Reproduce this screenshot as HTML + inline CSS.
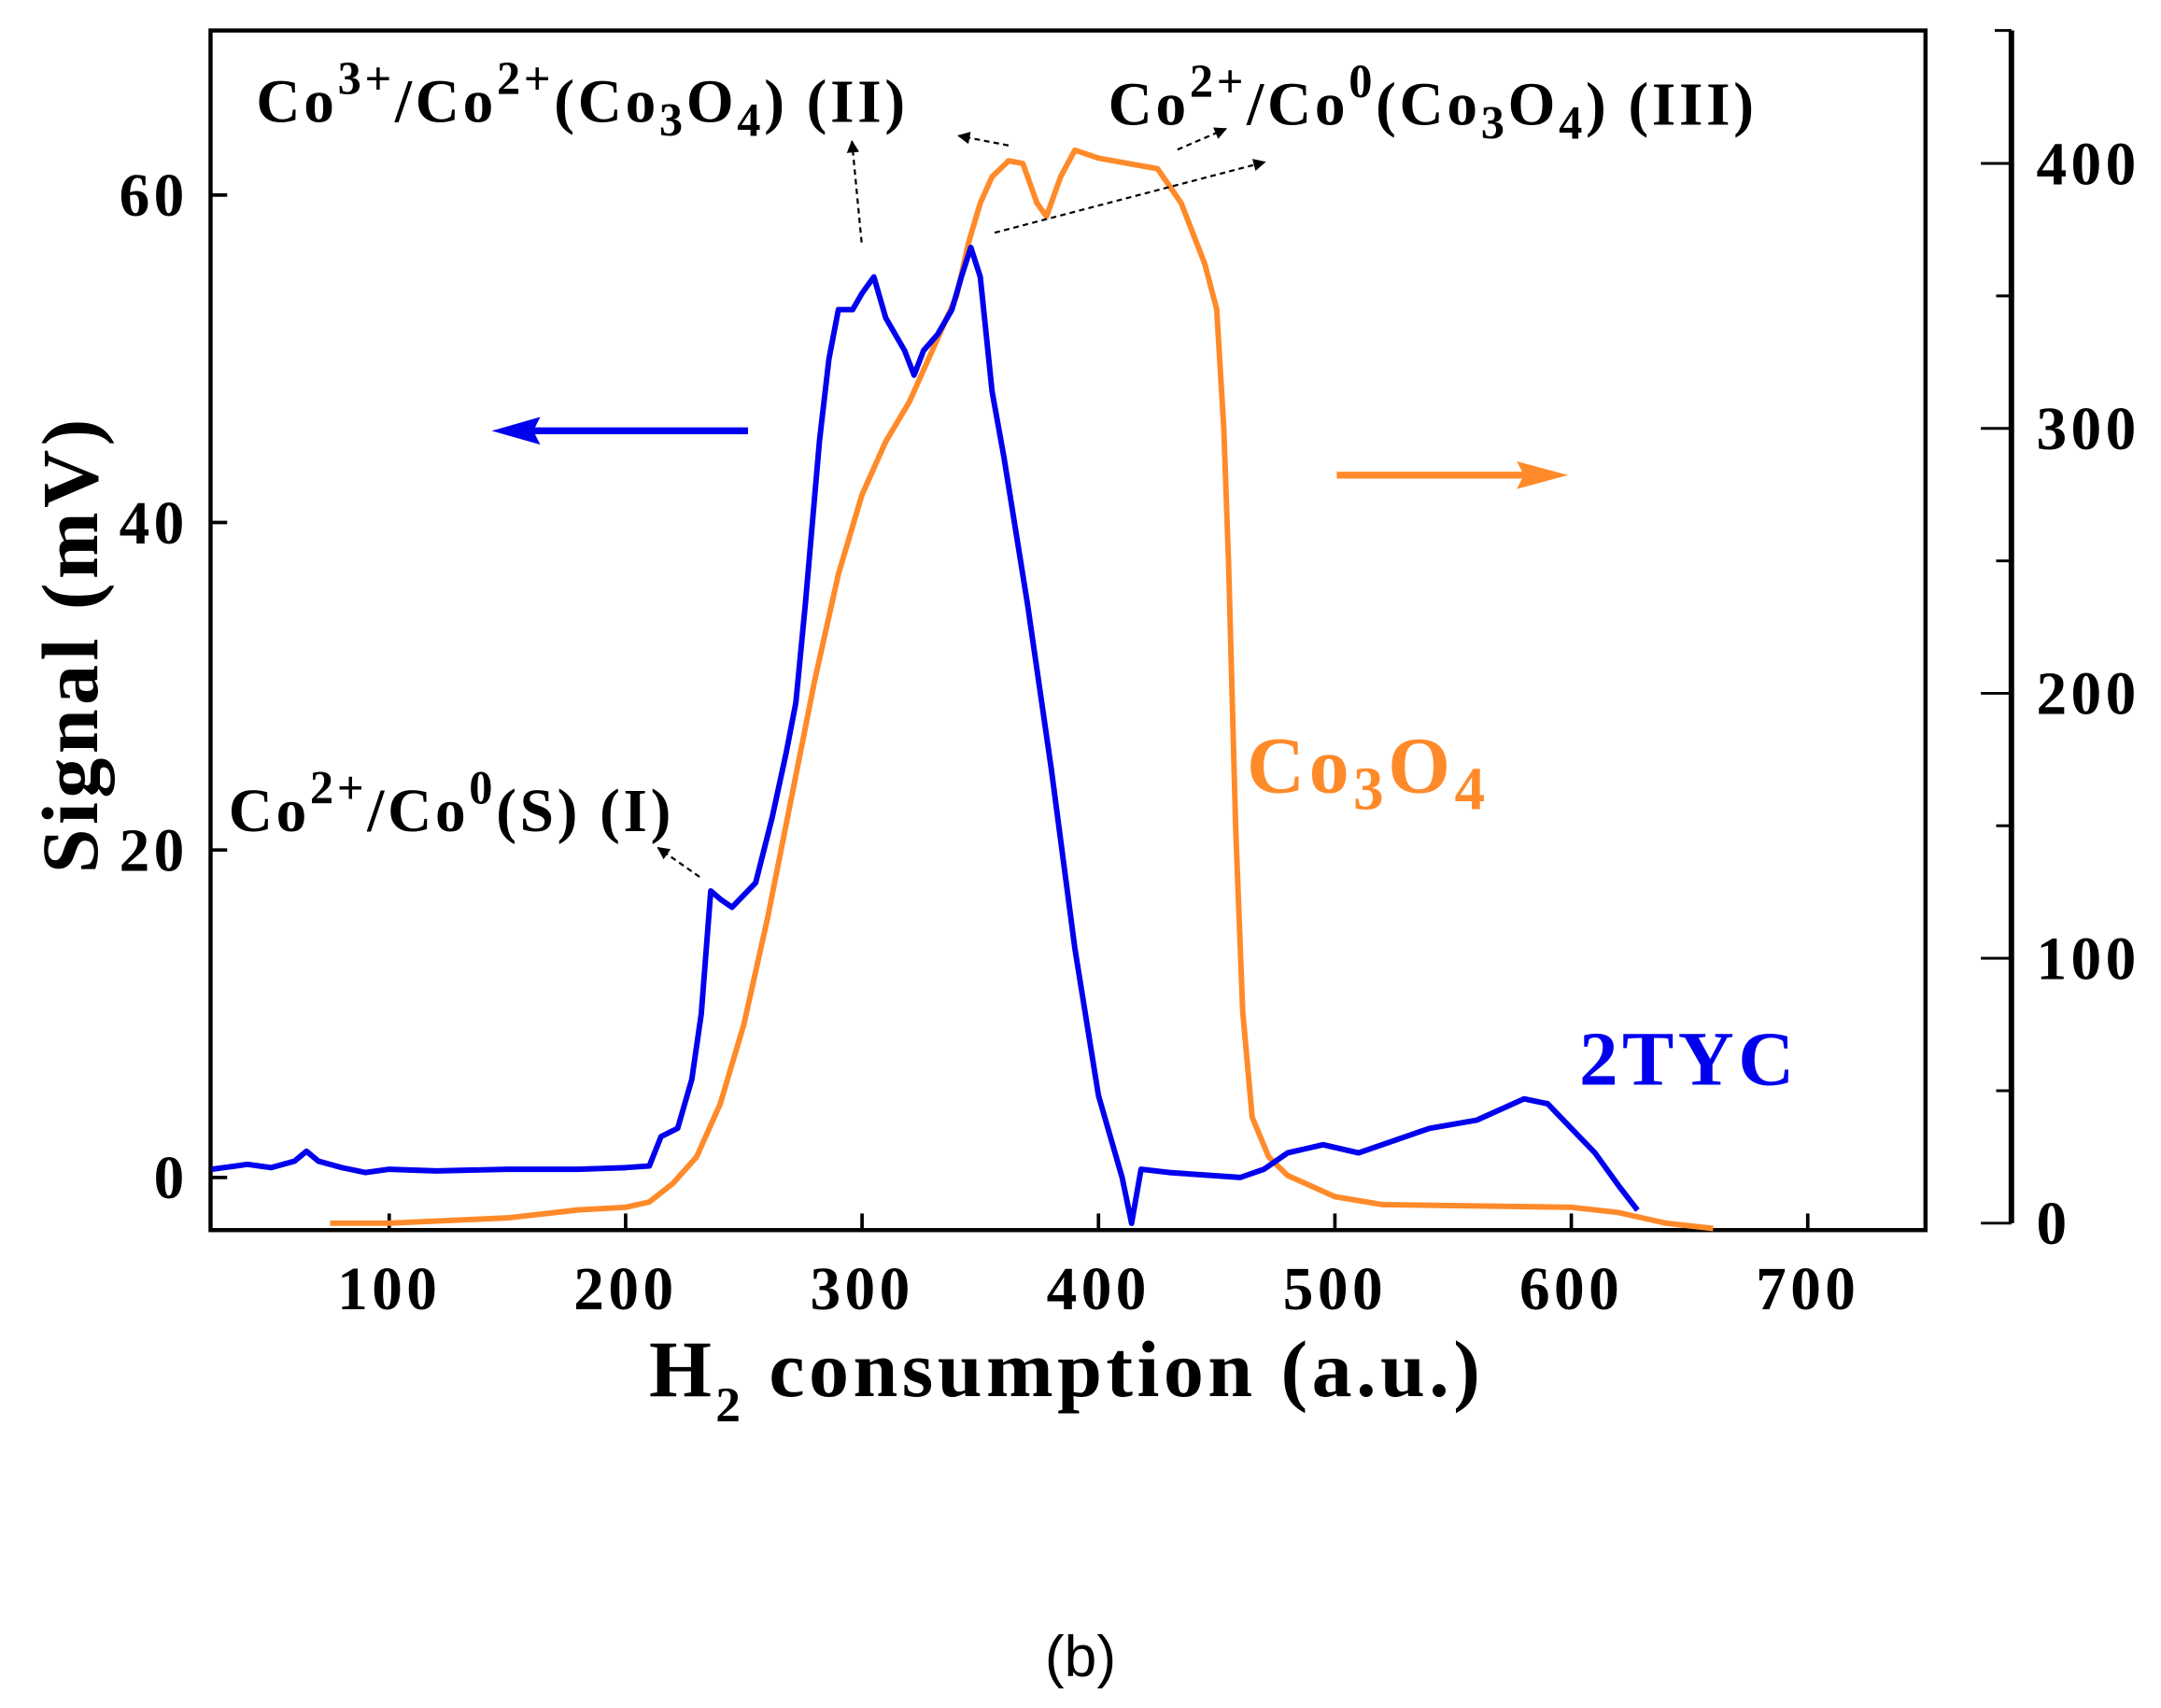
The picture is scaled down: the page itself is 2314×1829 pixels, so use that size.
<!DOCTYPE html>
<html><head><meta charset="utf-8"><style>
html,body{margin:0;padding:0;background:#fff;}
svg{display:block;}
text{font-family:"Liberation Serif",serif;font-weight:bold;}
</style></head><body>
<svg id="chart" width="2314" height="1829" viewBox="0 0 1560 1233" preserveAspectRatio="none" xmlns="http://www.w3.org/2000/svg">
<defs>
<marker id="ah" viewBox="0 0 10 10" refX="9" refY="5" markerWidth="6" markerHeight="6" orient="auto"><path d="M0,0L10,5L0,10z" fill="#000"/></marker>
</defs>
<g id="axes"></g>
<g id="series"></g>
<g font-size="44" letter-spacing="2.5">
<text x="185" y="88">Co<tspan dy="-20" font-size="34">3+</tspan><tspan dy="20">/Co</tspan><tspan dy="-20" font-size="34">2+</tspan><tspan dy="20">(Co</tspan><tspan dy="10" font-size="34">3</tspan><tspan dy="-10">O</tspan><tspan dy="10" font-size="34">4</tspan><tspan dy="-10">) (II)</tspan></text>
<text x="800" y="90">Co<tspan dy="-20" font-size="34">2+</tspan><tspan dy="20">/Co</tspan><tspan dy="-20" font-size="34">0</tspan><tspan dy="20">(Co</tspan><tspan dy="10" font-size="34">3</tspan><tspan dy="-10">O</tspan><tspan dy="10" font-size="34">4</tspan><tspan dy="-10">) (III)</tspan></text>
<text x="165" y="600">Co<tspan dy="-20" font-size="34">2+</tspan><tspan dy="20">/Co</tspan><tspan dy="-20" font-size="34">0</tspan><tspan dy="20">(S) (I)</tspan></text>
<g stroke="#000" stroke-width="1.5" stroke-dasharray="4,3" fill="none" marker-end="url(#ah)">
<line x1="622" y1="175" x2="615" y2="102"/>
<line x1="728" y1="105" x2="692" y2="98"/>
<line x1="850" y1="108" x2="885" y2="93"/>
<line x1="718" y1="168" x2="913" y2="117"/>
<line x1="505" y1="633" x2="475" y2="612"/>
</g>
</g>
<g>
<line x1="540" y1="311" x2="380" y2="311" stroke="#0000ee" stroke-width="5"/>
<path d="M355,311L390,301L385,311L390,321z" fill="#0000ee"/>
<line x1="965" y1="343" x2="1105" y2="343" stroke="#ff8a2a" stroke-width="5"/>
<path d="M1132,343L1095,333L1100,343L1095,353z" fill="#ff8a2a"/>
</g>
<text x="900" y="572" font-size="58" letter-spacing="3" fill="#ff8a2a">Co<tspan dy="12" font-size="44">3</tspan><tspan dy="-12">O</tspan><tspan dy="12" font-size="44">4</tspan></text>
<text x="1140" y="783" font-size="56" letter-spacing="3" fill="#0000ee">2TYC</text>
<text x="770" y="1008" font-size="58" letter-spacing="3" text-anchor="middle">H<tspan dy="18" font-size="36">2</tspan><tspan dy="-18"> consumption (a.u.)</tspan></text>
<text transform="translate(70,465) rotate(-90)" font-size="58" letter-spacing="3" text-anchor="middle">Signal (mV)</text>
<text x="780" y="1210" font-size="42" text-anchor="middle" style="font-family:'Liberation Sans',sans-serif;font-weight:normal">(b)</text>
</svg>
<script>
const blueX=[25,40,50,60,65,70,80,90,100,120,150,180,200,210,215,222,228,232,236,240,245,255,262,268,272,276,282,286,290,296,300,305,310,318,322,326,332,338,342,346,350,355,360,370,380,390,400,406,410,414,418,430,460,470,480,495,510,540,560,580,590,600,610,620,628];
const blueY=[0.5,0.8,0.6,1.0,1.6,1.0,0.6,0.3,0.5,0.4,0.5,0.5,0.6,0.7,2.5,3,6,10,17.5,17,16.5,18,22,26,29,35,45,50,53,53,54,55,52.5,50.5,49,50.5,51.5,53,55,56.8,55,48,44,35,25,14,5,2,0,-2.8,0.5,0.3,0,0.5,1.5,2,1.5,3,3.5,4.8,4.5,3,1.5,-0.5,-2];
const orangeX=[75,100,150,180,200,210,220,230,240,250,260,270,280,290,300,310,320,330,340,345,350,355,362,368,374,378,384,390,400,425,435,445,450,453,455,458,461,465,472,480,500,520,600,620,640,660];
const orangeY=[0,0,2,5,6,8,15,25,45,75,115,160,205,245,275,295,310,330,350,370,385,395,401,400,385,380,395,405,402,398,385,362,345,300,250,150,80,40,25,18,10,7,6,4,0,-2];
const xTicks=[100,200,300,400,500,600,700];
const yLeftTicks=[0,20,40,60];
const yRightTicks=[0,100,200,300,400];
const yRightMinor=[50,150,250,350];

const NS='http://www.w3.org/2000/svg';
const X=v=>110.3+v*1.7067;
const YL=v=>850-v*11.82;
const YR=v=>883-v*1.9125;
function mk(tag,attrs,parent,txt){const e=document.createElementNS(NS,tag);for(const k in attrs)e.setAttribute(k,attrs[k]);if(txt!==undefined)e.textContent=txt;parent.appendChild(e);return e;}
const axes=document.getElementById('axes');
const frame=mk('rect',{x:152,y:22,width:1238,height:866,fill:'none',stroke:'#000','stroke-width':3},axes);


xTicks.forEach(v=>{
  const t=mk('line',{x1:X(v),x2:X(v),y1:888,y2:876,stroke:'#000','stroke-width':2.5},axes);
  
  
  const l=mk('text',{x:X(v),y:945,'font-size':44,'letter-spacing':3,'text-anchor':'middle'},axes,String(v));
  
  
});
yLeftTicks.forEach(v=>{
  const t=mk('line',{x1:152,x2:164,y1:YL(v),y2:YL(v),stroke:'#000','stroke-width':2.5},axes);
  
  
  const l=mk('text',{x:136,y:YL(v)+15,'font-size':44,'letter-spacing':3,'text-anchor':'end'},axes,String(v));
  
  
});
const ra=mk('line',{x1:1452,x2:1452,y1:22,y2:YR(0),stroke:'#000','stroke-width':4},axes);


const rt=mk('line',{x1:1440,x2:1452,y1:22,y2:22,stroke:'#000','stroke-width':2},axes);


yRightTicks.forEach(v=>{
  const t=mk('line',{x1:1430,x2:1452,y1:YR(v),y2:YR(v),stroke:'#000','stroke-width':2},axes);
  
  
  const l=mk('text',{x:1470,y:YR(v)+15,'font-size':44,'letter-spacing':3},axes,String(v));
  
  
});
yRightMinor.forEach(v=>{
  const t=mk('line',{x1:1441,x2:1452,y1:YR(v),y2:YR(v),stroke:'#000','stroke-width':2},axes);
  
  
});
const ser=document.getElementById('series');
const op=mk('polyline',{points:orangeX.map((v,i)=>X(v)+','+YR(orangeY[i])).join(' '),fill:'none',stroke:'#ff8a2a','stroke-width':4,'stroke-linejoin':'round'},ser);


const bp=mk('polyline',{points:blueX.map((v,i)=>X(v)+','+YL(blueY[i])).join(' '),fill:'none',stroke:'#0000ee','stroke-width':4,'stroke-linejoin':'round'},ser);


</script>
</body></html>
